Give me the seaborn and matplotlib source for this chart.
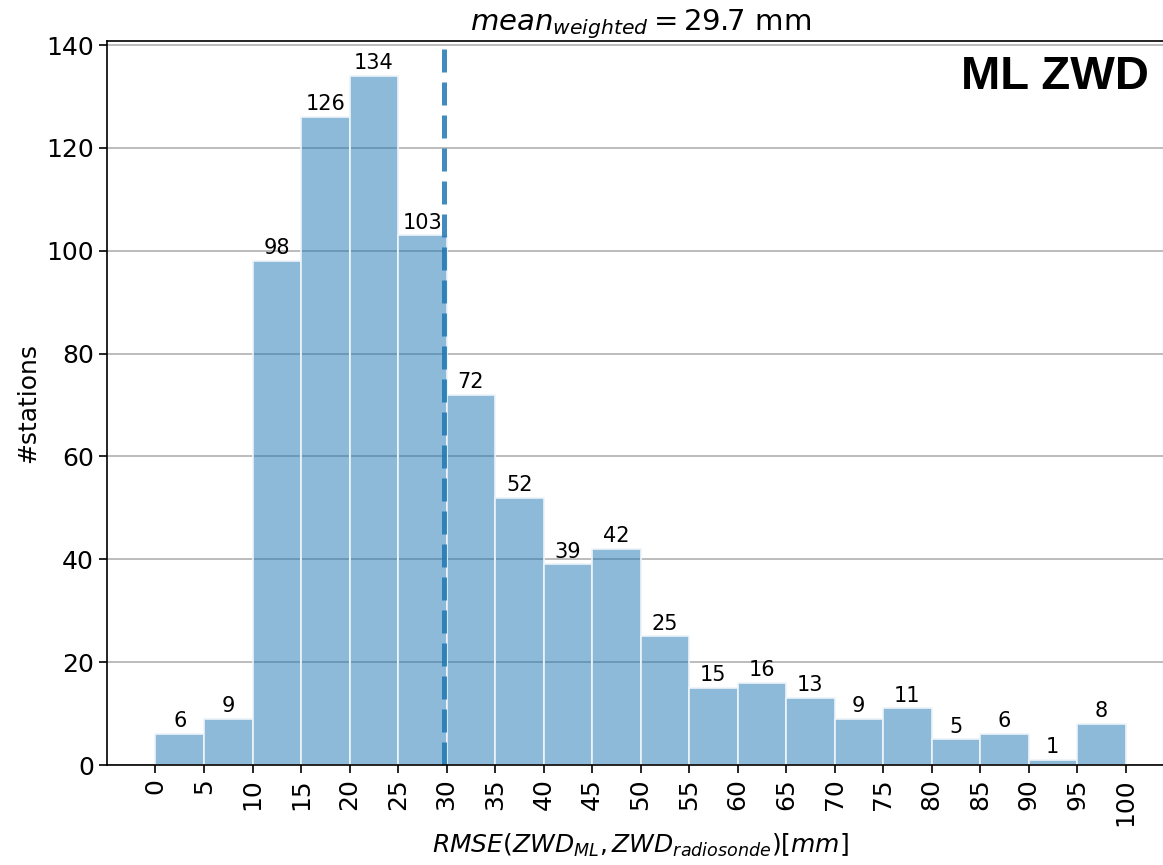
import numpy as np
import matplotlib
matplotlib.use("Agg")
import matplotlib.pyplot as plt
import seaborn as sns

# station counts per 5 mm RMSE bin
bin_edges = list(range(0, 105, 5))
counts = [6, 9, 98, 126, 134, 103, 72, 52, 39, 42, 25, 15, 16, 13, 9, 11, 5, 6, 1, 8]
mean_weighted = 29.7

sns.set_style("ticks")
plt.rcParams['font.family'] = ['DejaVu Sans']
plt.rcParams['text.color'] = 'black'
plt.rcParams['axes.labelcolor'] = 'black'
plt.rcParams['xtick.color'] = 'black'
plt.rcParams['ytick.color'] = 'black'
plt.rcParams['axes.edgecolor'] = 'black'

centers = [e + 2.5 for e in bin_edges[:-1]]

fig = plt.figure(figsize=(11.63, 8.65), dpi=100)
ax = fig.add_axes([0.092, 0.1156, 0.9175, 0.837])

sns.histplot(x=centers, weights=counts, bins=bin_edges, color="#1f77b4",
             alpha=0.5, edgecolor="#eef4fa", linewidth=1.2, ax=ax)
ax.bar_label(ax.containers[0], fontsize=15, padding=2)

ax.axvline(mean_weighted, color="#1f77b4", alpha=0.85, ls="--", lw=3.6,
           dashes=(4.6, 2.0))

ax.set_xlim(-5, 105)
ax.set_ylim(0, 140.8)
ax.set_xticks(bin_edges)
ax.set_xticklabels([str(e) for e in bin_edges], rotation=90)
ax.tick_params(axis="both", labelsize=18, length=6, width=1.2)
ax.yaxis.grid(True, color="#b0b0b0", lw=1.2)
ax.set_axisbelow(True)
for s in ax.spines.values():
    s.set_linewidth(1.2)

ax.set_title(r"$mean_{weighted} = $" + "%.1f mm" % mean_weighted, fontsize=21, pad=5)
ax.set_xlabel(r"$RMSE(ZWD_{ML}, ZWD_{radiosonde}) [mm]$", fontsize=18)
ax.set_ylabel("#stations", fontsize=18)
ax.text(0.9765, 0.98, "ML ZWD", transform=ax.transAxes, ha="right", va="top",
        fontsize=34, fontweight="bold", family=["Liberation Sans", "DejaVu Sans"])

fig.savefig("out.png", dpi=100)
